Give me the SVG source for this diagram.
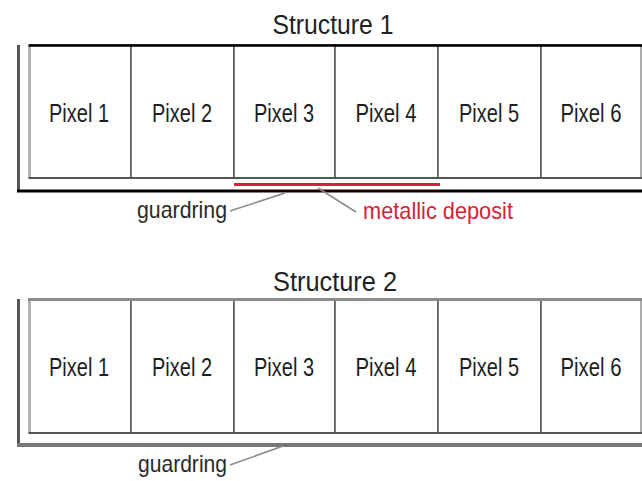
<svg xmlns="http://www.w3.org/2000/svg" width="642" height="481" viewBox="0 0 642 481">
<style>
.cell{fill:#fff;stroke:#555;stroke-width:1.5}
.lbl{font-family:"Liberation Sans",Arial,sans-serif;font-size:26px;fill:#1e1e1e;text-anchor:middle}
.title{font-family:"Liberation Sans",Arial,sans-serif;font-size:27px;fill:#222;text-anchor:middle}
.note{font-family:"Liberation Sans",Arial,sans-serif;font-size:24px;fill:#2a2a2a}
.lead{stroke:#8a8a8a;stroke-width:1.5;fill:none}
</style>
<rect width="642" height="481" fill="#fff"/>

<!-- Structure 1 -->
<text id="title1" class="title" x="333" y="34" textLength="121" lengthAdjust="spacingAndGlyphs">Structure 1</text>
<g id="s1-p1"><rect class="cell" x="29" y="45" width="102" height="133"/><text class="lbl" x="79" y="122" textLength="60" lengthAdjust="spacingAndGlyphs">Pixel 1</text></g>
<g id="s1-p2"><rect class="cell" x="131" y="45" width="103" height="133"/><text class="lbl" x="182" y="122" textLength="60" lengthAdjust="spacingAndGlyphs">Pixel 2</text></g>
<g id="s1-p3"><rect class="cell" x="234" y="45" width="101" height="133"/><text class="lbl" x="284" y="122" textLength="60" lengthAdjust="spacingAndGlyphs">Pixel 3</text></g>
<g id="s1-p4"><rect class="cell" x="335" y="45" width="103" height="133"/><text class="lbl" x="386" y="122" textLength="61" lengthAdjust="spacingAndGlyphs">Pixel 4</text></g>
<g id="s1-p5"><rect class="cell" x="438" y="45" width="103" height="133"/><text class="lbl" x="489" y="122" textLength="60" lengthAdjust="spacingAndGlyphs">Pixel 5</text></g>
<g id="s1-p6"><rect class="cell" x="541" y="45" width="100" height="133"/><text class="lbl" x="591" y="122" textLength="61" lengthAdjust="spacingAndGlyphs">Pixel 6</text></g>
<g id="s1-frame">
<line x1="29" y1="45.5" x2="642" y2="45.5" stroke="#000" stroke-width="2.5"/>
<line x1="29.5" y1="47" x2="29.5" y2="177" stroke="#b5b5b5" stroke-width="3"/>
<line x1="641" y1="47" x2="641" y2="177" stroke="#bbb" stroke-width="1.5"/>
<line x1="29" y1="178" x2="642" y2="178" stroke="#555" stroke-width="2"/>
</g>
<g id="s1-guardring">
<line x1="18.5" y1="45" x2="18.5" y2="192" stroke="#555" stroke-width="3"/>
<line x1="17" y1="191" x2="642" y2="191" stroke="#000" stroke-width="3"/>
</g>
<g id="s1-deposit">
<line x1="234" y1="184.5" x2="440" y2="184.5" stroke="#d42237" stroke-width="3"/>
</g>

<!-- Structure 2 -->
<text id="title2" class="title" x="335" y="291" textLength="124" lengthAdjust="spacingAndGlyphs">Structure 2</text>
<g id="s2-p1"><rect class="cell" x="29" y="299" width="102" height="134"/><text class="lbl" x="79" y="376" textLength="60" lengthAdjust="spacingAndGlyphs">Pixel 1</text></g>
<g id="s2-p2"><rect class="cell" x="131" y="299" width="103" height="134"/><text class="lbl" x="182" y="376" textLength="60" lengthAdjust="spacingAndGlyphs">Pixel 2</text></g>
<g id="s2-p3"><rect class="cell" x="234" y="299" width="101" height="134"/><text class="lbl" x="284" y="376" textLength="60" lengthAdjust="spacingAndGlyphs">Pixel 3</text></g>
<g id="s2-p4"><rect class="cell" x="335" y="299" width="103" height="134"/><text class="lbl" x="386" y="376" textLength="61" lengthAdjust="spacingAndGlyphs">Pixel 4</text></g>
<g id="s2-p5"><rect class="cell" x="438" y="299" width="103" height="134"/><text class="lbl" x="489" y="376" textLength="60" lengthAdjust="spacingAndGlyphs">Pixel 5</text></g>
<g id="s2-p6"><rect class="cell" x="541" y="299" width="100" height="134"/><text class="lbl" x="591" y="376" textLength="61" lengthAdjust="spacingAndGlyphs">Pixel 6</text></g>
<g id="s2-frame">
<line x1="29" y1="299.5" x2="642" y2="299.5" stroke="#8c8c8c" stroke-width="3"/>
<line x1="29.5" y1="301" x2="29.5" y2="432" stroke="#b5b5b5" stroke-width="3"/>
<line x1="641" y1="301" x2="641" y2="432" stroke="#bbb" stroke-width="1.5"/>
<line x1="29" y1="433" x2="642" y2="433" stroke="#555" stroke-width="2"/>
</g>
<g id="s2-guardring">
<line x1="18.5" y1="299" x2="18.5" y2="447" stroke="#555" stroke-width="3"/>
<line x1="17" y1="445" x2="642" y2="445" stroke="#777" stroke-width="4"/>
</g>

<!-- Labels -->
<text id="lbl-guard1" class="note" x="137" y="218" textLength="90" lengthAdjust="spacingAndGlyphs">guardring</text>
<text id="lbl-deposit" class="note" x="363" y="219" textLength="150" lengthAdjust="spacingAndGlyphs" style="fill:#d42237">metallic deposit</text>
<text id="lbl-guard2" class="note" x="138" y="472" textLength="89" lengthAdjust="spacingAndGlyphs">guardring</text>

<!-- Connectors -->
<g id="connectors">
<line class="lead" x1="230" y1="211" x2="285" y2="193"/>
<line class="lead" x1="318" y1="188" x2="356" y2="212"/>
<line class="lead" x1="230" y1="465" x2="283" y2="446"/>
</g>
</svg>
